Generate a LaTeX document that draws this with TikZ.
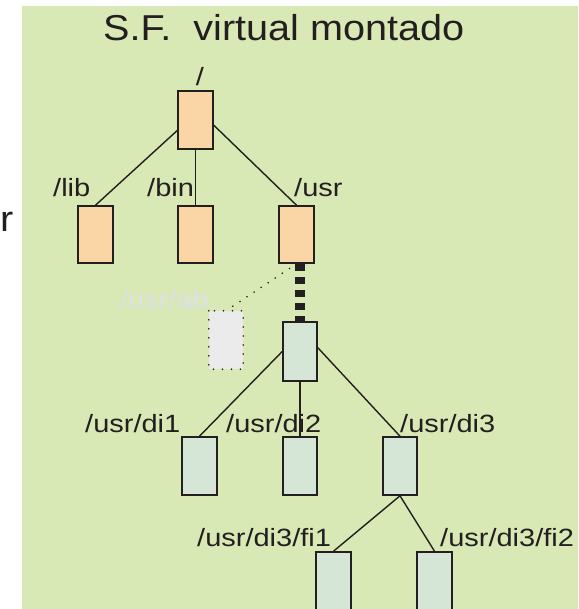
\documentclass[tikz,border=0pt]{standalone}
\usepackage{fontspec}
\setmainfont{Liberation Sans}
\newfontfamily\lblfont[FakeStretch=1.16]{Liberation Sans}
\newfontfamily\ttlfont[FakeStretch=1.1]{Liberation Sans}
\definecolor{bggreen}{RGB}{217,233,181}
\definecolor{orangebox}{RGB}{250,213,165}
\definecolor{mntbox}{RGB}{213,229,214}
\definecolor{abbox}{RGB}{235,235,235}
\definecolor{ink}{RGB}{35,31,32}
\definecolor{ablabel}{RGB}{222,223,232}
\tikzset{
  fbox/.style={draw=ink, line width=1.6pt, inner sep=0pt, minimum width=35pt, minimum height=58pt},
  orangefs/.style={fbox, fill=orangebox},
  mntfs/.style={fbox, fill=mntbox, minimum width=34pt},
  abfs/.style={fill=abbox, inner sep=0pt, minimum width=34pt, minimum height=58pt},
  lbl/.style={inner sep=0pt, anchor=base west, text=ink, font=\lblfont\fontsize{25}{30}\selectfont},
  conn/.style={draw=ink, line width=1.4pt},
}
\begin{document}
\begin{tikzpicture}[x=1pt,y=-1pt]
\useasboundingbox (0,0) rectangle (578,609);
\clip (0,0) rectangle (578,609);
\fill[bggreen] (22,6) rectangle (580,612);
% title and stray letter
\node[inner sep=0pt, anchor=base west, text=ink, font=\ttlfont\fontsize{36}{40}\selectfont] (title) at (103,41) {S.F.\ \ virtual montado};
\node[inner sep=0pt, anchor=base west, text=ink, font=\ttlfont\fontsize{36}{40}\selectfont] (rr) at (0,232) {r};
% boxes
\node[orangefs] (root) at (195.5,120) {};
\node[orangefs, minimum height=57pt] (lib) at (95.5,234.5) {};
\node[orangefs, minimum height=57pt] (bin) at (195.5,234.5) {};
\node[orangefs, minimum height=57pt] (usr) at (296.5,234.5) {};
\node[abfs] (ab) at (226,340) {};
\draw[ink, line width=1.8pt, dash pattern=on 0pt off 9pt, line cap=round] (ab.north west) rectangle (ab.south east);
\node[mntfs, minimum height=59pt] (mnt) at (300,351.5) {};
\node[mntfs, minimum width=35pt] (di1) at (199.5,466) {};
\node[mntfs] (di2) at (300,466) {};
\node[mntfs] (di3) at (400,466) {};
\node[mntfs, minimum width=35pt] (fi1) at (333.5,581) {};
\node[mntfs, minimum width=35pt] (fi2) at (434.5,581) {};
% connectors
\draw[conn] (root.210) -- (lib.north);
\draw[conn] (root.south) -- (bin.north);
\draw[conn] (root.344) -- (usr.north);
\draw[ink, line width=9.5pt, dash pattern=on 7pt off 6pt] (mnt.north |- usr.south) -- (mnt.north);
\draw[ink, line width=1.8pt, dash pattern=on 0pt off 8.5pt, line cap=round] (usr.south) -- (ab.north);
\draw[conn] (mnt.west) -- (di1.north);
\draw[conn] (mnt.south) -- (di2.north);
\draw[conn] (mnt.12) -- (di3.north);
\draw[conn] (di3.south) -- (fi1.north);
\draw[conn] (di3.south) -- (fi2.north);
% labels
\node[lbl, anchor=base] (lroot) at (200,86) {/};
\node[lbl] (llib) at (53,197) {/lib};
\node[lbl] (lbin) at (147,197) {/bin};
\node[lbl] (lusr) at (294,197) {/usr};
\node[lbl, text=ablabel] (lab) at (120,308) {/usr/ab};
\node[lbl] (ldi1) at (85,432) {/usr/di1};
\node[lbl] (ldi2) at (226,432) {/usr/di2};
\node[lbl] (ldi3) at (400,432) {/usr/di3};
\node[lbl] (lfi1) at (197,546) {/usr/di3/fi1};
\node[lbl] (lfi2) at (440,546) {/usr/di3/fi2};
\end{tikzpicture}
\end{document}
